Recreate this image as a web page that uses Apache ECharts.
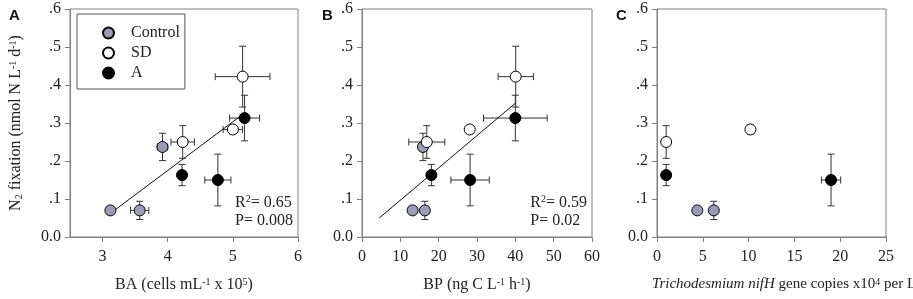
<!DOCTYPE html>
<html>
<head>
<meta charset="utf-8">
<script src="https://cdn.jsdelivr.net/npm/echarts@6/dist/echarts.min.js"></script>
<style>
  html, body { margin: 0; padding: 0; background: #fff; }
  #main { width: 913px; height: 299px; }
</style>
</head>
<body>
<div id="main"></div>
<script>
// each point: [x, y, xErr, yErr]
const groups = ['Control', 'SD', 'A'];
const groupColors = ['#9b9bb8', '#ffffff', '#000000'];

// panel A: BA (cells mL-1 x 10^5)
const baControl = [[3.12, 0.070, 0, 0], [3.57, 0.070, 0.14, 0.024], [3.92, 0.237, 0.08, 0.036]];
const baSD = [[4.23, 0.250, 0.18, 0.043], [5.00, 0.283, 0.15, 0.010], [5.15, 0.422, 0.42, 0.080]];
const baA = [[4.22, 0.163, 0.05, 0.028], [4.77, 0.150, 0.20, 0.068], [5.18, 0.313, 0.23, 0.060]];
const baFit = [[3.15, 0.066], [5.10, 0.316]];

// panel B: BP (ng C L-1 h-1)
const bpControl = [[13.2, 0.070, 0, 0], [16.4, 0.070, 0.4, 0.024], [15.9, 0.237, 0.4, 0.036]];
const bpSD = [[16.9, 0.250, 4.7, 0.043], [28.1, 0.283, 0.4, 0.010], [40.1, 0.422, 4.6, 0.080]];
const bpA = [[18.1, 0.163, 0.4, 0.028], [28.2, 0.150, 5.0, 0.068], [40.0, 0.313, 8.3, 0.060]];
const bpFit = [[4.5, 0.050], [40.0, 0.352]];

// panel C: Trichodesmium nifH gene copies
const nifControl = [[4.4, 0.070, 0.35, 0], [6.2, 0.070, 0.1, 0.024]];
const nifSD = [[1.0, 0.250, 0, 0.043], [10.2, 0.283, 0.35, 0.012]];
const nifA = [[1.0, 0.163, 0, 0.028], [19.0, 0.150, 1.05, 0.068]];

const yTicks = [0, 0.1, 0.2, 0.3, 0.4, 0.5, 0.6];
const baTicks = [3, 4, 5, 6];

const serif = '"Liberation Serif", "DejaVu Serif", serif';
const axisGrey = '#808080';
const fs = 16;

const panels = [
  { key: 'A', grid: { left: 70, right: 615, top: 9, height: 228 }, xMin: 2.5, xMax: 6, xInt: 1,
    xName: 'BA (cells mL{sup|-1} x 10{sup|5})', sets: [baControl, baSD, baA], fit: baFit,
    stats: ['R{sup|2}= 0.65', 'P= 0.008'], showYName: true },
  { key: 'B', grid: { left: 362, right: 321, top: 9, height: 228 }, xMin: 0, xMax: 60, xInt: 10,
    xName: 'BP (ng C L{sup|-1} h{sup|-1})', sets: [bpControl, bpSD, bpA], fit: bpFit,
    stats: ['R{sup|2}= 0.59', 'P= 0.02'] },
  { key: 'C', grid: { left: 657, right: 27, top: 9, height: 228 }, xMin: 0, xMax: 25, xInt: 5,
    xName: '{i|Trichodesmium nifH} gene copies x10{sup|4} per L', sets: [nifControl, nifSD, nifA],
    nameSize: 15, namePad: [0, 0, 0, 25] }
];

const richText = {
  sup: { fontFamily: serif, fontSize: 10, verticalAlign: 'top', lineHeight: 10, padding: [0, 0, 6, 0], color: '#222' },
  sub: { fontFamily: serif, fontSize: 10, verticalAlign: 'bottom', lineHeight: 10, padding: [6, 0, 0, 0], color: '#222' },
  i: { fontFamily: serif, fontStyle: 'italic', fontSize: 15, color: '#222' }
};

function errorBars(params, api) {
  const x = api.value(0), y = api.value(1), dx = api.value(2), dy = api.value(3);
  const c = api.coord([x, y]);
  const cap = 3.5;
  const style = { stroke: '#333', lineWidth: 1 };
  const kids = [];
  if (dy > 0) {
    const top = api.coord([x, y + dy]), bot = api.coord([x, y - dy]);
    kids.push({ type: 'line', shape: { x1: c[0], y1: top[1], x2: c[0], y2: bot[1] }, style: style });
    kids.push({ type: 'line', shape: { x1: c[0] - cap, y1: top[1], x2: c[0] + cap, y2: top[1] }, style: style });
    kids.push({ type: 'line', shape: { x1: c[0] - cap, y1: bot[1], x2: c[0] + cap, y2: bot[1] }, style: style });
  }
  if (dx > 0) {
    const l = api.coord([x - dx, y]), r = api.coord([x + dx, y]);
    kids.push({ type: 'line', shape: { x1: l[0], y1: c[1], x2: r[0], y2: c[1] }, style: style });
    kids.push({ type: 'line', shape: { x1: l[0], y1: c[1] - cap, x2: l[0], y2: c[1] + cap }, style: style });
    kids.push({ type: 'line', shape: { x1: r[0], y1: c[1] - cap, x2: r[0], y2: c[1] + cap }, style: style });
  }
  return { type: 'group', children: kids };
}

const grids = [], xAxes = [], yAxes = [], series = [], titles = [], graphics = [];

panels.forEach((p, i) => {
  grids.push(Object.assign({
    show: true, borderColor: axisGrey, borderWidth: 1, backgroundColor: 'transparent',
    containLabel: false, outerBoundsMode: 'none'
  }, p.grid));
  const xTicks = p.key === 'A' ? baTicks : null;
  const xAxis = {
    gridIndex: i, type: 'value', min: p.xMin, max: p.xMax,
    name: p.xName, nameLocation: 'middle', nameGap: 40,
    nameTextStyle: { fontFamily: serif, fontSize: p.nameSize || fs, color: '#222', rich: richText, padding: p.namePad || 0 },
    axisLine: { show: true, lineStyle: { color: axisGrey } },
    axisTick: { show: true, inside: false, length: 5, lineStyle: { color: axisGrey } },
    axisLabel: { fontFamily: serif, fontSize: fs, color: '#222', margin: 12 },
    splitLine: { show: false }
  };
  if (xTicks) {
    xAxis.axisTick.customValues = xTicks;
    xAxis.axisLabel.customValues = xTicks;
  } else {
    xAxis.interval = p.xInt;
  }
  xAxes.push(xAxis);
  yAxes.push({
    gridIndex: i, type: 'value', min: 0, max: 0.6, interval: 0.1,
    name: p.showYName ? 'N{sub|2} fixation (nmol N L{sup|-1} d{sup|-1})' : '',
    nameLocation: 'middle', nameGap: 46, nameRotate: 90,
    nameTextStyle: { fontFamily: serif, fontSize: fs, color: '#222', rich: richText },
    axisLine: { show: true, lineStyle: { color: axisGrey } },
    axisTick: { show: true, inside: false, length: 5, lineStyle: { color: axisGrey } },
    axisLabel: {
      fontFamily: serif, fontSize: fs, color: '#222', margin: 9,
      customValues: yTicks,
      formatter: v => v === 0 ? '0.0' : v.toFixed(1).replace(/^0/, '')
    },
    splitLine: { show: false }
  });

  p.sets.forEach((data, g) => {
    series.push({
      type: 'custom', xAxisIndex: i, yAxisIndex: i, renderItem: errorBars,
      data: data, z: 1, silent: true, clip: false
    });
  });
  if (p.fit) {
    series.push({
      type: 'line', xAxisIndex: i, yAxisIndex: i, data: p.fit, showSymbol: false, symbol: 'none',
      lineStyle: { color: '#111', width: 1 }, z: 2, silent: true
    });
  }
  p.sets.forEach((data, g) => {
    series.push({
      name: groups[g], type: 'scatter', xAxisIndex: i, yAxisIndex: i,
      data: data.map(d => [d[0], d[1]]), symbol: 'circle', symbolSize: 11, z: 3,
      itemStyle: { color: groupColors[g], borderColor: '#000', borderWidth: 1, opacity: 1 }
    });
  });

  titles.push({
    text: p.key, left: [4, 317, 611][i], top: 3,
    textStyle: { fontFamily: '"Liberation Sans", Arial, sans-serif', fontSize: 15, fontWeight: 'bold', color: '#111' }
  });

  if (p.stats) {
    graphics.push({
      type: 'text', right: p.grid.right + 5, top: 194,
      style: {
        text: p.stats[0] + '\n' + p.stats[1],
        font: fs + 'px ' + serif, fill: '#222', lineHeight: 18,
        rich: { sup: { font: '10px ' + serif, verticalAlign: 'top', lineHeight: 10, padding: [0, 0, 6, 0], fill: '#222' } }
      }
    });
  }
});

const chart = echarts.init(document.getElementById('main'), null, { renderer: 'canvas' });
chart.setOption({
  animation: false,
  backgroundColor: '#fff',
  title: titles,
  grid: grids,
  xAxis: xAxes,
  yAxis: yAxes,
  legend: {
    data: groups.map(n => ({ name: n, icon: 'circle' })),
    orient: 'vertical', left: 77, top: 14,
    borderColor: '#555', borderWidth: 1,
    padding: [11, 5, 8, 25],
    itemWidth: 11, itemHeight: 11, itemGap: 4,
    textStyle: { fontFamily: serif, fontSize: fs, color: '#222', lineHeight: 16, padding: [0, 0, 0, 12] },
    selectedMode: false
  },
  graphic: graphics,
  series: series
});
</script>
</body>
</html>
